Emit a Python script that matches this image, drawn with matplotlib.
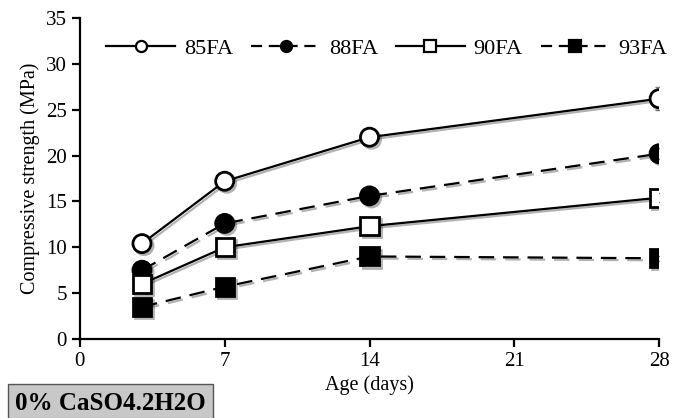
import matplotlib
matplotlib.use("Agg")
import matplotlib.pyplot as plt
import matplotlib.patheffects as pe
from matplotlib.lines import Line2D

plt.rcParams['font.family'] = ['Liberation Serif', 'DejaVu Serif']

days = [3, 7, 14, 28]
labels = ["85FA", "88FA", "90FA", "93FA"]
s85 = [10.4, 17.2, 22.0, 26.2]
s88 = [7.5, 12.6, 15.6, 20.2]
s90 = [6.0, 10.0, 12.3, 15.4]
s93 = [3.5, 5.7, 9.0, 8.8]
e85 = [0.4, 0.5, 0.8, 1.25]
e88 = [0.3, 0.4, 0.5, 0.6]
e90 = [0.4, 0.4, 0.4, 0.5]
e93 = [0.2, 0.3, 0.3, 0.3]
xticks = [0, 7, 14, 21, 28]
yticks = [0, 5, 10, 15, 20, 25, 30, 35]

fig = plt.figure(figsize=(6.83, 4.18), dpi=100)
ax = fig.add_axes([0.117, 0.189, 0.848, 0.768])

styles = [
    (s85, e85, '-', 'o', 'white'),
    (s88, e88, '--', 'o', 'black'),
    (s90, e90, '-', 's', 'white'),
    (s93, e93, '--', 's', 'black'),
]
for (vals, errs, ls, mk, fc), lab in zip(styles, labels):
    ax.errorbar(days, vals, yerr=errs, fmt='none', ecolor='#808080', elinewidth=1, capsize=3, zorder=2)
    kw = dict(linestyle=ls, marker=mk, color='black', markerfacecolor=fc,
              markeredgecolor='black', markersize=13, markeredgewidth=2, linewidth=1.6, zorder=3)
    if ls == '--':
        kw['dashes'] = (7, 4)
    line, = ax.plot(days, vals, **kw)
    line.set_path_effects([pe.SimpleLineShadow(offset=(1.5, -1.5), alpha=0.3), pe.Normal()])

proxies = []
for (vals, errs, ls, mk, fc) in styles:
    kw = dict(color='black', linestyle=ls, marker=mk, markerfacecolor=fc,
              markeredgecolor='black', markersize=8, markeredgewidth=1.6, linewidth=1.6)
    if ls == '--':
        kw['dashes'] = (5, 3)
    proxies.append(Line2D([], [], **kw))
ax.legend(proxies, labels, loc='upper center', bbox_to_anchor=(0.53, 1.0), ncol=4, frameon=False,
          fontsize=16, handlelength=3.1, columnspacing=0.8, handletextpad=0.4)

ax.set_xlim(0, 28)
ax.set_ylim(0, 35)
ax.set_xticks(xticks)
ax.set_yticks(yticks)
ax.tick_params(labelsize=15, width=1.6, length=6, direction='out')
for s in ['top', 'right']:
    ax.spines[s].set_visible(False)
for s in ['left', 'bottom']:
    ax.spines[s].set_linewidth(1.6)
ax.set_xlabel("Age (days)", fontsize=14.5, labelpad=3)
ax.set_ylabel("Compressive strength (MPa)", fontsize=14.5, labelpad=4)

fig.text(0.022, 0.008, "0% CaSO4.2H2O", fontsize=18, fontweight='bold', ha='left', va='bottom',
         bbox=dict(boxstyle='square,pad=0.3', facecolor='#c8c8c8', edgecolor='#555555', linewidth=1))

fig.savefig("out.png", dpi=100)
